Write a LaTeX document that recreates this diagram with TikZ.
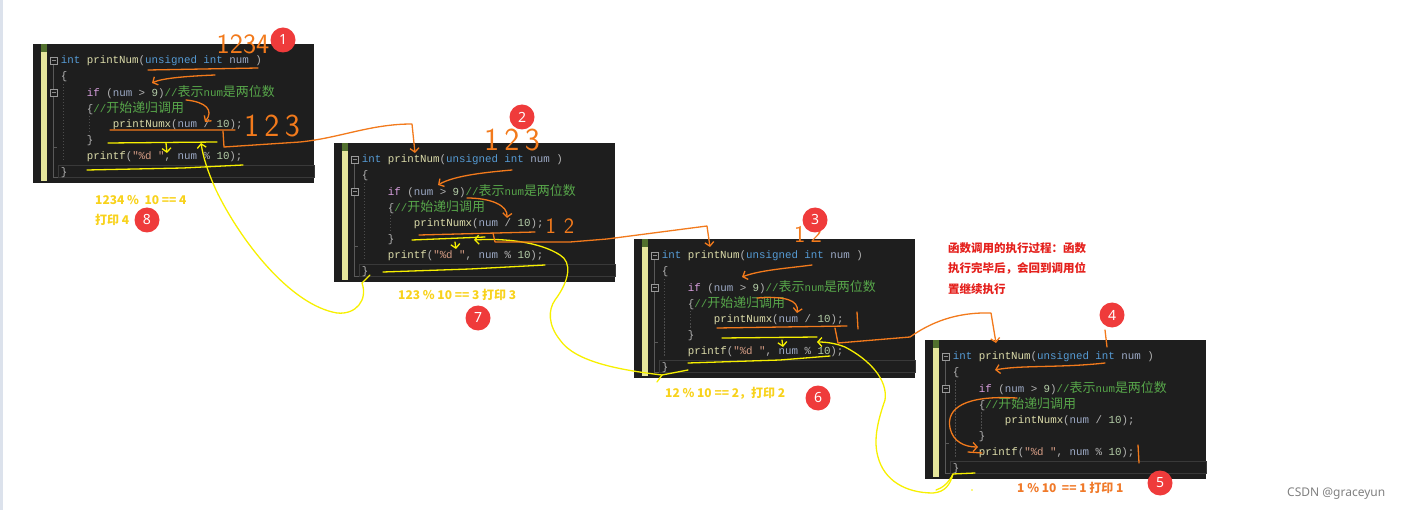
\documentclass[tikz,border=0pt]{standalone}
\usepackage{fontspec}
\usetikzlibrary{arrows.meta}
\newfontfamily\codefont{Liberation Mono}
\newfontfamily\cjk{Noto Sans CJK SC}
\newfontfamily\cjkcode{Noto Sans CJK SC}[Scale=1.2]
\newfontfamily\badgefont{Noto Sans}
\definecolor{codebg}{HTML}{1E1E1E}
\definecolor{gutgreen}{HTML}{52702E}
\definecolor{gutyellow}{HTML}{E6E69C}
\definecolor{kwblue}{HTML}{569CD6}
\definecolor{kwpurple}{HTML}{D8A0DF}
\definecolor{fnyel}{HTML}{DCDCAA}
\definecolor{numvar}{HTML}{9DAAC6}
\definecolor{punct}{HTML}{B4B4B4}
\definecolor{cmtgreen}{HTML}{57A64A}
\definecolor{strbrown}{HTML}{D69D85}
\definecolor{litgreen}{HTML}{B5CEA8}
\definecolor{inkorange}{HTML}{F27A1C}
\definecolor{inkyellow}{HTML}{F7F000}
\definecolor{lblyellow}{HTML}{F8D21C}
\definecolor{lblorange}{HTML}{F07A2A}
\definecolor{badgered}{HTML}{EF3B3B}
\definecolor{notered}{HTML}{E4201C}
\definecolor{sidestrip}{HTML}{DCE2EC}
\newcommand{\ckw}[1]{\textcolor{kwblue}{#1}}
\newcommand{\ckwp}[1]{\textcolor{kwpurple}{#1}}
\newcommand{\cfn}[1]{\textcolor{fnyel}{#1}}
\newcommand{\cnum}[1]{\textcolor{numvar}{#1}}
\newcommand{\clit}[1]{\textcolor{litgreen}{#1}}
\newcommand{\ccmt}[1]{\textcolor{cmtgreen}{#1}}
\newcommand{\cstr}[1]{\textcolor{strbrown}{#1}}

\begin{document}
\begin{tikzpicture}[x=1pt,y=-1pt,
	code/.style={anchor=west,inner sep=0pt,text=punct,
		font=\codefont\fontsize{10.8}{13}\selectfont},
	guide/.style={draw=gray!70!black,line width=0.8pt},
	dotguide/.style={draw=gray!60!black,line width=0.8pt,dash pattern=on 1.5pt off 1.5pt},
	foldbox/.style={draw=gray!80,line width=0.8pt,fill=codebg},
	oink/.style={draw=inkorange,line width=1.3pt,line cap=round,line join=round},
	yink/.style={draw=inkyellow,line width=1.3pt,line cap=round,line join=round},
	barb/.style={-{Straight Barb[length=4pt,width=9pt]}},
	hand/.style={inner sep=0pt,text=inkorange,font=\sffamily\fontsize{#1}{#1}\selectfont},
	hand/.default=28,
	badge/.style={circle,fill=badgered,text=white,minimum size=25pt,inner sep=0pt,
		font=\badgefont\fontsize{14}{14}\selectfont},
	lbl/.style={anchor=west,inner sep=0pt,text=lblyellow,
		font=\cjk\bfseries\fontsize{12}{14}\selectfont},
	note/.style={anchor=west,inner sep=0pt,text=notered,
		font=\cjk\bfseries\fontsize{11.5}{13}\selectfont}]
\useasboundingbox (0,0) rectangle (1407,510);
\fill[sidestrip] (0,0) rectangle (3,510);

% the four editor screenshots
\foreach \bn/\bx/\by in {a/33/44,b/334/143,c/634/239,d/925/340}{
\begin{scope}[shift={(\bx,\by)}]
	\fill[codebg] (0,0) rectangle (281,139);
	\fill[gutgreen] (8,0) rectangle (14,8);
	\fill[gutyellow] (8,8) rectangle (14,137);
	\draw[draw=gray!45!black,line width=0.8pt] (25,121) rectangle (281,133);
	\draw[guide] (20.5,20) -- (20.5,45) (20.5,52) -- (20.5,133) -- (25,133)
		(20.5,103) -- (24,103);
	\draw[dotguide] (30,40) -- (30,118) (56,72) -- (56,90);
	\foreach \fy in {16.5,48.5}{
		\draw[foldbox] (17,\fy-3.5) rectangle (24,\fy+3.5);
		\draw[gray!90,line width=0.8pt] (18.5,\fy) -- (22.5,\fy);
	}
	\node[code] (\bn-1) at (27.7,16.5) {\ckw{int} \cfn{printNum}(\ckw{unsigned} \ckw{int} \cnum{num} )};
	\node[code] (\bn-2) at (27.7,32.5) {\{};
	\node[code] (\bn-3) at (53.7,48.5) {\ckwp{if} (\cnum{num} > \clit{9})\ccmt{//{\cjkcode 表示}num{\cjkcode 是两位数}}};
	\node[code] (\bn-4) at (53.7,64.5) {\{\ccmt{//{\cjkcode 开始递归调用}}};
	\node[code] (\bn-5) at (79.7,80.5) {\cfn{printNumx}(\cnum{num} / \clit{10});};
	\node[code] (\bn-6) at (53.7,96.5) {\}};
	\node[code] (\bn-7) at (53.7,112.5) {\cfn{printf}(\cstr{"\%d "}, \cnum{num} \% \clit{10});};
	\node[code] (\bn-8) at (27.7,128.5) {\}};
\end{scope}
}

% yellow: the way back after each call
\draw[yink] (108,143) -- (217,142) (87,170) -- (183,168) -- (243,165);
\draw[yink,barb] (166,143) -- (167,153);
\draw[yink,barb] (370,275) -- (362,283) .. controls (368,300) and (356,315) .. (337,313)
	.. controls (290,305) and (240,240) .. (216,190) .. controls (207,170) and (203,156) .. (201,143);
\draw[yink] (412,240) -- (485,237) (383,272) -- (470,269) -- (545,265);
\draw[yink,barb] (455,242) -- (456,249);
\draw[yink,barb] (688,370) -- (662,375) .. controls (620,370) and (575,362) .. (560,340)
	.. controls (548,325) and (548,310) .. (555,300) .. controls (570,280) and (572,262) .. (560,255)
	.. controls (540,242) and (505,238) .. (474,240);
\draw[yink] (657,382) -- (662,375);
\draw[yink] (722,338) -- (817,337) (688,363) -- (780,360) -- (830,356);
\draw[yink,barb] (782,340) -- (783,347);
\draw[yink,barb] (975,473) -- (953,474) .. controls (950,485) and (945,492) .. (933,493)
	.. controls (905,493) and (884,480) .. (878,457) .. controls (873,440) and (878,420) .. (885,400)
	.. controls (888,380) and (870,360) .. (845,347) .. controls (835,343) and (825,342) .. (817,342);
\draw[yink] (953,474) .. controls (948,484) and (942,488) .. (936,490);
\fill[inkyellow] (972,490) circle (0.8pt);

% orange: the calls going in
\draw[oink] (148,70) -- (258,68) (110,130) -- (235,130);
\draw[oink,barb] (215,75) .. controls (190,76) and (162,78) .. (152,83);
\draw[oink,barb] (186,100) .. controls (206,102) and (214,110) .. (205,122);
\draw[oink,barb] (223,131) -- (224,147) -- (300,142) .. controls (340,138) and (370,124) .. (412,124) -- (415,153);
\draw[oink] (419,235) -- (535,232);
\draw[oink,barb] (512,170) .. controls (490,172) and (455,175) .. (438,185);
\draw[oink,barb] (467,198) .. controls (490,198) and (508,205) .. (507,218);
\draw[oink,barb] (493,233) -- (495,242) -- (570,242) -- (607,239) -- (707,226) -- (710,247);
\draw[oink] (717,328) -- (847,326) (857,312) -- (858,329);
\draw[oink,barb] (812,265) .. controls (790,268) and (760,270) .. (742,277);
\draw[oink,barb] (757,298) .. controls (785,296) and (799,300) .. (797,313);
\draw[oink,barb] (835,328) -- (838,343) -- (910,337) .. controls (930,323) and (955,312) .. (991,313) -- (996,343);
\draw[oink] (1105,330) -- (1107,347) (1138,445) -- (1139,463) (968,452) -- (982,453);
\draw[oink,barb] (1105,363) .. controls (1060,368) and (1020,365) .. (995,370);
\draw[oink,barb] (1017,398) .. controls (965,395) and (946,408) .. (950,428)
	.. controls (953,442) and (965,447) .. (978,447);

% handwritten values
\node[hand=28] (val-a1) at (243,44) {1234};
\node[hand=32] (val-a2) at (272,126) {1\,2\,3};
\node[hand=32] (val-b1) at (512,140) {1\,2\,3};
\node[hand=22] (val-b2) at (560,226) {1\hspace{8pt}2};
\node[hand=24] (val-c1) at (808,234) {1\hspace{5pt}2};

% results printed
\node[lbl] (calc-a) at (95,200) {1234 \%\ \ 10 == 4};
\node[lbl] (print-a) at (95,220) {打印 4};
\node[lbl] (calc-b) at (398,295) {123 \% 10 == 3 打印 3};
\node[lbl] (calc-c) at (665,393) {12 \% 10 == 2，打印 2};
\node[lbl,text=lblorange] (calc-d) at (1017,488) {1 \% 10\ \ == 1 打印 1};

\node[note] (note-1) at (948,248) {函数调用的执行过程：函数};
\node[note] (note-2) at (948,268) {执行完毕后，会回到调用位};
\node[note] (note-3) at (948,289) {置继续执行};

% step numbers
\node[badge] (step1) at (283,40) {1};
\node[badge] (step2) at (522,117) {2};
\node[badge] (step3) at (815,220) {3};
\node[badge] (step4) at (1112,315) {4};
\node[badge] (step5) at (1160,483) {5};
\node[badge] (step6) at (818,398) {6};
\node[badge] (step7) at (478,318) {7};
\node[badge] (step8) at (147,220) {8};

\node[anchor=west,inner sep=0pt,text=gray,font=\badgefont\fontsize{12}{14}\selectfont]
	(mark) at (1287,494) {CSDN @graceyun};
\end{tikzpicture}
\end{document}
